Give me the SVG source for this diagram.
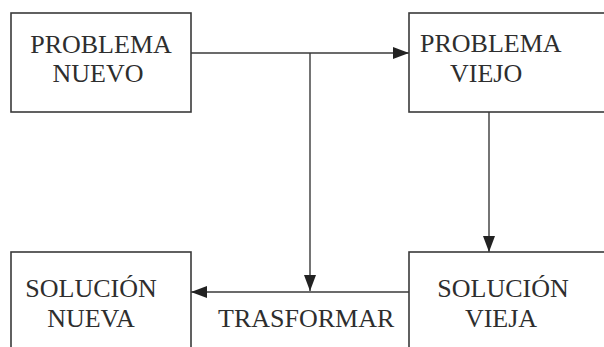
<svg xmlns="http://www.w3.org/2000/svg" width="604" height="347" viewBox="0 0 604 347">
  <style>
    .box { fill: #fff; stroke: #3a3a3a; stroke-width: 1.6; }
    .edge { fill: none; stroke: #3a3a3a; stroke-width: 1.4; }
    .lbl { font-family: "Liberation Serif", "Times New Roman", serif; font-size: 26px; fill: #2e2e2e; }
  </style>
  <defs>
    <marker id="arrow" markerWidth="16" markerHeight="12" refX="16" refY="6" orient="auto" markerUnits="userSpaceOnUse">
      <path d="M0,0 L16,6 L0,12 Z" fill="#222"/>
    </marker>
  </defs>
  <rect width="604" height="347" fill="#fff"/>

  <g id="connectors">
    <!-- problema nuevo -> problema viejo -->
    <path class="edge" d="M191,53 L409,53" marker-end="url(#arrow)"/>
    <!-- branch down to the transform line -->
    <path class="edge" d="M310,53 L310,291" marker-end="url(#arrow)"/>
    <!-- problema viejo -> solucion vieja -->
    <path class="edge" d="M489,112 L489,252" marker-end="url(#arrow)"/>
    <!-- solucion vieja -> solucion nueva -->
    <path class="edge" d="M409,292 L191,292" marker-end="url(#arrow)"/>
  </g>

  <g id="problema-nuevo">
    <rect class="box" x="11" y="13" width="180" height="99"/>
    <text class="lbl" x="101" y="53" text-anchor="middle">PROBLEMA</text>
    <text class="lbl" x="98" y="82" text-anchor="middle">NUEVO</text>
  </g>

  <g id="problema-viejo">
    <rect class="box" x="409" y="13" width="205" height="99"/>
    <text class="lbl" x="420" y="52">PROBLEMA</text>
    <text class="lbl" x="450" y="82">VIEJO</text>
  </g>

  <g id="solucion-nueva">
    <rect class="box" x="11" y="252" width="180" height="110"/>
    <text class="lbl" x="91" y="297" text-anchor="middle">SOLUCIÓN</text>
    <text class="lbl" x="91" y="327" text-anchor="middle">NUEVA</text>
  </g>

  <g id="solucion-vieja">
    <rect class="box" x="409" y="252" width="205" height="110"/>
    <text class="lbl" x="503" y="297" text-anchor="middle">SOLUCIÓN</text>
    <text class="lbl" x="501" y="327" text-anchor="middle">VIEJA</text>
  </g>

  <g id="trasformar">
    <text class="lbl" x="218" y="327">TRASFORMAR</text>
  </g>
</svg>
